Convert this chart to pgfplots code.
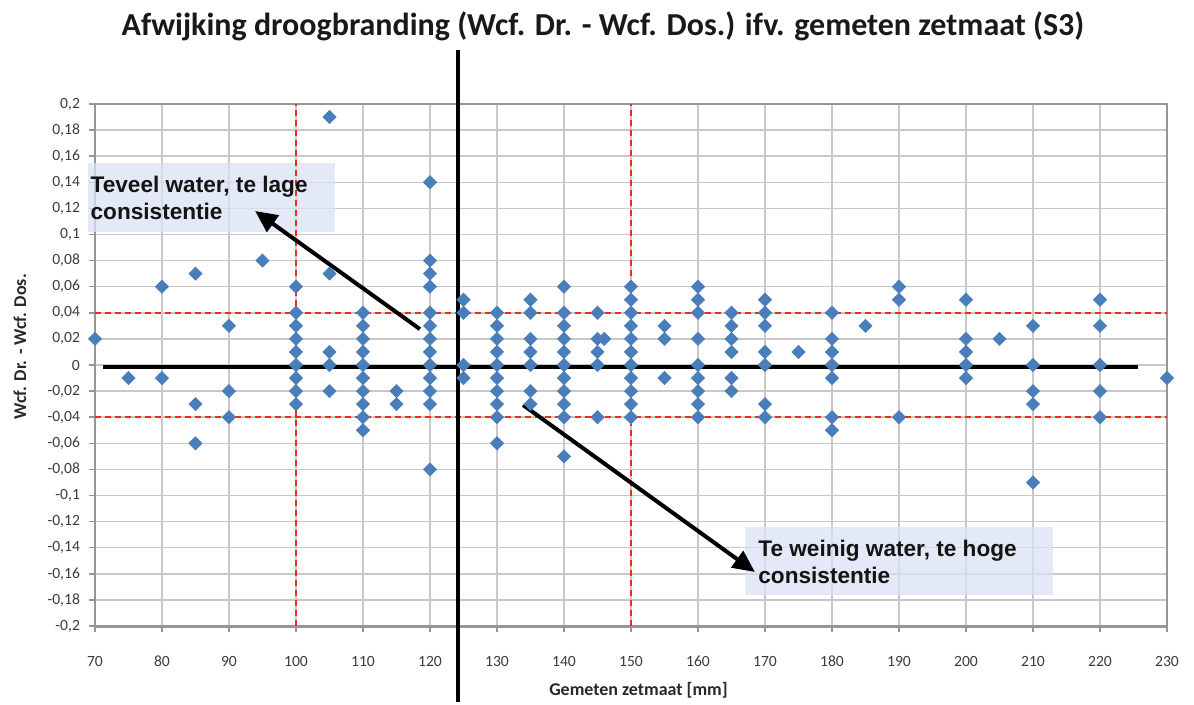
\documentclass[border=0pt]{standalone}
\usepackage{pgfplots}
\pgfplotsset{compat=1.18}
\usepackage{fontspec}
\setmainfont{Carlito}[Numbers=Lining]
\newfontfamily\arialfont{Liberation Sans}
\usetikzlibrary{arrows.meta}
\definecolor{mblue}{RGB}{74,126,187}
\definecolor{gridgray}{RGB}{200,200,200}
\definecolor{axisgray}{RGB}{150,150,150}
\definecolor{boxfill}{RGB}{218,225,243}
\definecolor{dred}{RGB}{238,45,25}
\definecolor{ticktext}{RGB}{60,60,60}
\definecolor{boxtext}{RGB}{20,20,20}
\definecolor{titletext}{RGB}{25,25,25}
\definecolor{labeltext}{RGB}{40,40,40}
\begin{document}
\begin{tikzpicture}
\begin{axis}[
  scale only axis, width=536pt, height=261pt,
  xmin=70, xmax=230, ymin=-0.2, ymax=0.2,
  clip=false,
  xtick={70,80,...,230},
  ytick={-0.2,-0.18,-0.16,-0.14,-0.12,-0.1,-0.08,-0.06,-0.04,-0.02,0,0.02,0.04,0.06,0.08,0.1,0.12,0.14,0.16,0.18,0.2},
  yticklabels={{-0,2},{-0,18},{-0,16},{-0,14},{-0,12},{-0,1},{-0,08},{-0,06},{-0,04},{-0,02},{0},{0,02},{0,04},{0,06},{0,08},{0,1},{0,12},{0,14},{0,16},{0,18},{0,2}},
  /pgf/number format/assume math mode=true,
  ticklabel style={font=\fontsize{7.8}{9}\selectfont, text=ticktext},
  xticklabel style={anchor=base, yshift=-17pt},
  yticklabel style={xshift=-1pt},
  grid=major,
  major grid style={gridgray, line width=0.75pt},
  axis line style={axisgray, line width=0.75pt},
  tick style={axisgray, line width=0.75pt},
  tick align=outside, tick pos=left, major tick length=3pt,
]
% invisible frame fixing the picture's extent
\path (rel axis cs:-0.0886,-0.1456) rectangle (rel axis cs:1.0252,1.1992);
\draw[axisgray, line width=1.5pt] (rel axis cs:0,0) -- (rel axis cs:1,0);

% text box backgrounds
\fill[boxfill, opacity=0.75] (axis cs:68.96,0.1548) rectangle (axis cs:105.82,0.1019);
\fill[boxfill, opacity=0.75] (axis cs:167.0,-0.1241) rectangle (axis cs:213.0,-0.1762);

% red dashed reference lines
\addplot[dred, line width=1pt, dash pattern=on 3pt off 2pt] coordinates {(70,0.04) (230,0.04)};
\addplot[dred, line width=1pt, dash pattern=on 3pt off 2pt] coordinates {(70,-0.04) (230,-0.04)};
\addplot[dred, line width=1pt, dash pattern=on 3pt off 2pt] coordinates {(100,-0.2) (100,0.2)};
\addplot[dred, line width=1pt, dash pattern=on 3pt off 2pt] coordinates {(150,-0.2) (150,0.2)};

% data
\addplot[only marks, mark=square*, mark size=2.3pt, mark options={rotate=45, fill=mblue, draw=mblue}] table {
x y
70 0.02
75 -0.01
80 0.06
80 -0.01
85 0.07
85 -0.03
85 -0.06
90 0.03
90 -0.02
90 -0.04
95 0.08
100 0.06
100 0.04
100 0.03
100 0.02
100 0.01
100 0
100 -0.01
100 -0.02
100 -0.03
105 0.19
105 0.07
105 0.01
105 0
105 -0.02
110 0.04
110 0.03
110 0.02
110 0.01
110 0
110 -0.01
110 -0.02
110 -0.03
110 -0.04
110 -0.05
115 -0.02
115 -0.03
120 0.14
120 0.08
120 0.07
120 0.06
120 0.04
120 0.03
120 0.02
120 0.01
120 0
120 -0.01
120 -0.02
120 -0.03
120 -0.08
125 0.05
125 0.04
125 0
125 -0.01
130 0.04
130 0.03
130 0.02
130 0.01
130 0
130 -0.01
130 -0.02
130 -0.03
130 -0.04
130 -0.06
135 0.05
135 0.04
135 0.02
135 0.01
135 0
135 -0.02
135 -0.03
140 0.06
140 0.04
140 0.03
140 0.02
140 0.01
140 0
140 -0.01
140 -0.02
140 -0.03
140 -0.04
140 -0.07
145 0.04
145 0.02
145 0.01
145 0
145 -0.04
146 0.02
150 0.06
150 0.05
150 0.04
150 0.03
150 0.02
150 0.01
150 0
150 -0.01
150 -0.02
150 -0.03
150 -0.04
155 0.03
155 0.02
155 -0.01
160 0.06
160 0.05
160 0.04
160 0.02
160 0
160 -0.01
160 -0.02
160 -0.03
160 -0.04
165 0.04
165 0.03
165 0.02
165 0.01
165 -0.01
165 -0.02
170 0.05
170 0.04
170 0.03
170 0.01
170 0
170 -0.03
170 -0.04
175 0.01
180 0.04
180 0.02
180 0.01
180 0
180 -0.01
180 -0.04
180 -0.05
185 0.03
190 0.06
190 0.05
190 -0.04
200 0.05
200 0.02
200 0.01
200 0
200 -0.01
205 0.02
210 0.03
210 0
210 -0.02
210 -0.03
210 -0.09
220 0.05
220 0.03
220 0
220 -0.02
220 -0.04
230 -0.01
};

% black cross lines
\addplot[black, line width=2.2pt] coordinates {(71.2,-0.0015) (225.7,-0.0015)};
\addplot[black, line width=2.2pt] coordinates {(124.2,0.2414) (124.2,-0.258)};

% arrows
\addplot[black, line width=2pt, -{Triangle[length=11pt,width=10pt]}] coordinates {(118.5,0.0275) (93.9,0.1180)};
\addplot[black, line width=2pt, -{Triangle[length=11pt,width=10pt]}] coordinates {(133.9,-0.0307) (168.5,-0.1586)};

% box texts
\node[anchor=west, align=left, inner sep=0pt, font=\arialfont\bfseries\fontsize{11.3}{13.5}\selectfont, text=boxtext] at (axis cs:69.3,0.1284) {Teveel water, te lage\\consistentie};
\node[anchor=west, align=left, inner sep=0pt, font=\arialfont\bfseries\fontsize{11.3}{13.5}\selectfont, text=boxtext] at (axis cs:168.96,-0.1506) {Te weinig water, te hoge\\consistentie};

% titles
\node[font=\bfseries\fontsize{16}{19}\selectfont, text=titletext] at (rel axis cs:0.474,1.148) {Afwijking droogbranding (Wcf. Dr. - Wcf. Dos.) ifv. gemeten zetmaat (S3)};
\node[rotate=90, font=\bfseries\fontsize{9}{11}\selectfont, text=labeltext] at (rel axis cs:-0.070,0.535) {Wcf. Dr. - Wcf. Dos.};
\node[font=\bfseries\fontsize{9}{11}\selectfont, text=labeltext] at (rel axis cs:0.507,-0.1226) {Gemeten zetmaat [mm]};
\end{axis}
\end{tikzpicture}
\end{document}
